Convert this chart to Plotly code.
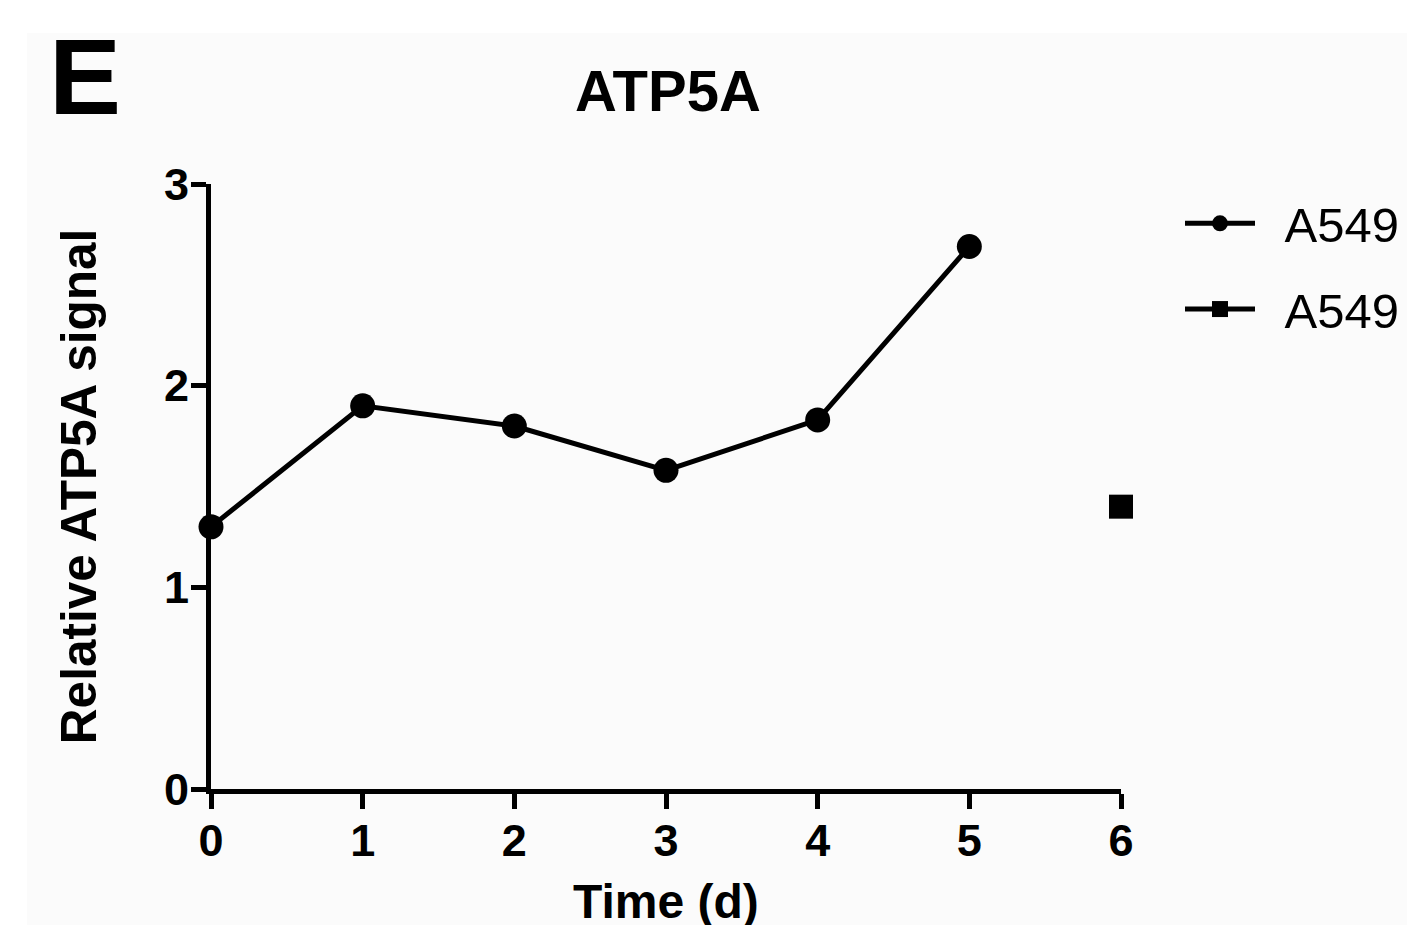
import plotly.graph_objects as go

# Data
days_a = [0, 1, 2, 3, 4, 5]
signal_a = [1.30, 1.90, 1.80, 1.58, 1.83, 2.69]
days_b = [6]
signal_b = [1.40]
x_ticks = [0, 1, 2, 3, 4, 5, 6]
y_ticks = [0, 1, 2, 3]
series_names = ["A549", "A549"]

OFF = 8  # browser body margin
W, H = 1415 - OFF, 925 - OFF
L, R, T, B = 211 - OFF, 1122 - OFF, 184 - OFF, 789 - OFF  # plot area pixel edges
FONT = "Liberation Sans, Arial, sans-serif"
GAP = "\u2002"  # spacing between legend key and its label


def px(xp):
    return (xp - OFF - L) / (R - L)


def py(yp):
    return (B - (yp - OFF)) / (B - T)


fig = go.Figure()
fig.add_trace(go.Scatter(
    x=days_a, y=signal_a, mode="lines+markers", name=GAP + series_names[0],
    line=dict(color="black", width=5),
    marker=dict(symbol="circle", size=25, color="black"),
    cliponaxis=False, legendgroup="a",
))
fig.add_trace(go.Scatter(
    x=days_b, y=signal_b, mode="lines+markers", name=GAP + series_names[1],
    line=dict(color="black", width=5),
    marker=dict(symbol="square", size=24, color="black"),
    cliponaxis=False, legendgroup="b",
))

axis_common = dict(
    showline=True, linecolor="black", linewidth=5,
    ticks="outside", ticklen=15, tickwidth=5, tickcolor="black",
    showgrid=False, zeroline=False,
    tickfont=dict(family=FONT, size=45, color="black", weight="bold"),
)

fig.update_layout(
    width=W, height=H,
    margin=dict(l=L, r=W - R, t=T, b=H - B, pad=0),
    paper_bgcolor="white", plot_bgcolor="rgba(0,0,0,0)",
    xaxis=dict(range=[0, 6], tickvals=x_ticks, ticklabelstandoff=-7, **axis_common),
    yaxis=dict(range=[0, 3], tickvals=y_ticks, ticklabelstandoff=-7, **axis_common),
    showlegend=True,
    legend=dict(
        x=px(1180), y=py(185), xanchor="left", yanchor="top",
        font=dict(family=FONT, size=49, color="black"),
        bgcolor="rgba(0,0,0,0)", tracegroupgap=19, itemwidth=70,
    ),
    shapes=[dict(type="rect", xref="paper", yref="paper",
                 x0=px(27), x1=px(1415), y0=py(33), y1=py(925),
                 fillcolor="#fbfbfb", line=dict(width=0), layer="below")],
    annotations=[
        dict(text="E", xref="paper", yref="paper", x=px(47), y=py(76),
             xanchor="left", yanchor="middle", showarrow=False,
             font=dict(family=FONT, size=108, color="black", weight="bold")),
        dict(text="ATP5A", xref="paper", yref="paper", x=px(669), y=py(90),
             xanchor="center", yanchor="middle", showarrow=False,
             font=dict(family=FONT, size=58, color="black", weight="bold")),
        dict(text="Time (d)", xref="paper", yref="paper", x=px(666), y=py(901),
             xanchor="center", yanchor="middle", showarrow=False,
             font=dict(family=FONT, size=48, color="black", weight="bold")),
        dict(text="Relative ATP5A signal", xref="paper", yref="paper",
             x=px(78), y=py(487), xanchor="center", yanchor="middle",
             textangle=-90, showarrow=False,
             font=dict(family=FONT, size=49.5, color="black", weight="bold")),
    ],
)

fig.write_html("out.html")
